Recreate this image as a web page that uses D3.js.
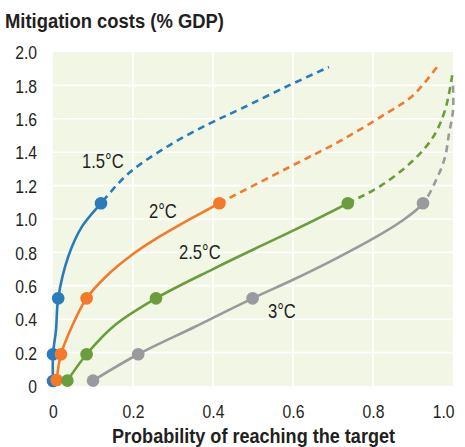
<!DOCTYPE html>
<html><head><meta charset="utf-8">
<script src="https://cdn.jsdelivr.net/npm/d3@7"></script>
<style>
body{margin:0;background:#fff;}
text{font-family:"Liberation Sans",Arial,sans-serif;fill:#231f20;}
</style></head>
<body>
<svg id="c" width="465" height="447"></svg>
<script>
const xTicks = [0, 0.2, 0.4, 0.6, 0.8, 1.0];
const xTickLabels = ["0", "0.2", "0.4", "0.6", "0.8", "1.0"];
const yTicks = [0, 0.2, 0.4, 0.6, 0.8, 1.0, 1.2, 1.4, 1.6, 1.8, 2.0];
const yTickLabels = ["0", "0.2", "0.4", "0.6", "0.8", "1.0", "1.2", "1.4", "1.6", "1.8", "2.0"];
const seriesNames = ["1.5°C", "2°C", "2.5°C", "3°C"];
const seriesColors = ["#2a7bbb", "#f47a2a", "#6a9e3c", "#9a9a9e"];

const markers15 = [[0.0, 0.03], [0.0, 0.19], [0.013, 0.525], [0.12, 1.094]];
const solid15 = [[0.0, 0.03], [0.0, 0.19], [0.0075, 0.335], [0.013, 0.525], [0.038, 0.774], [0.072, 0.953], [0.12, 1.094]];
const dashed15 = [[0.19, 1.275], [0.29, 1.44], [0.39, 1.57], [0.47, 1.66], [0.59, 1.80], [0.69, 1.91]];

const markers20 = [[0.009, 0.036], [0.02, 0.19], [0.084, 0.525], [0.416, 1.094]];
const solid20 = [[0.009, 0.036], [0.02, 0.19], [0.047, 0.355], [0.084, 0.525], [0.13, 0.65], [0.20, 0.79], [0.255, 0.878], [0.338, 0.993], [0.416, 1.094]];
const dashed20 = [[0.59, 1.31], [0.72, 1.47], [0.835, 1.635], [0.90, 1.74], [0.96, 1.91]];

const markers25 = [[0.036, 0.032], [0.084, 0.19], [0.2575, 0.525], [0.737, 1.094]];
const solid25 = [[0.036, 0.032], [0.084, 0.19], [0.155, 0.365], [0.2575, 0.525], [0.40, 0.70], [0.505, 0.822], [0.60, 0.93], [0.737, 1.094]];
const dashed25 = [[0.82, 1.20], [0.90, 1.35], [0.95, 1.49], [0.98, 1.65], [1.0, 1.89]];

const markers30 = [[0.10, 0.032], [0.213, 0.19], [0.499, 0.525], [0.925, 1.094]];
const solid30 = [[0.10, 0.032], [0.213, 0.19], [0.355, 0.355], [0.499, 0.525], [0.60, 0.636], [0.70, 0.754], [0.80, 0.882], [0.87, 0.985], [0.925, 1.094]];
const dashed30 = [[0.96, 1.245], [0.98, 1.37], [0.99, 1.51], [1.0, 1.65], [1.0, 1.80]];

const series = [
  {name: seriesNames[0], color: seriesColors[0], markers: markers15, solid: solid15, dashed: dashed15},
  {name: seriesNames[1], color: seriesColors[1], markers: markers20, solid: solid20, dashed: dashed20},
  {name: seriesNames[2], color: seriesColors[2], markers: markers25, solid: solid25, dashed: dashed25},
  {name: seriesNames[3], color: seriesColors[3], markers: markers30, solid: solid30, dashed: dashed30}
];

const W = 465, H = 447;
const svg = d3.select("#c");
const x = d3.scaleLinear().domain([0, 1]).range([53, 453]);
const y = d3.scaleLinear().domain([0, 2]).range([386, 52]);

function squeeze(sel, f) {
  sel.each(function () {
    const w = this.getComputedTextLength();
    d3.select(this).attr("textLength", w * f).attr("lengthAdjust", "spacingAndGlyphs");
  });
}

// panel
svg.append("rect").attr("x", x(0)).attr("y", y(2)).attr("width", x(1) - x(0)).attr("height", y(0) - y(2)).attr("fill", "#f2f6e5");
// grid
svg.append("g").selectAll("line").data(yTicks.filter(d => d > 0 && d < 2)).join("line")
  .attr("x1", x(0)).attr("x2", x(1)).attr("y1", d => y(d)).attr("y2", d => y(d))
  .attr("stroke", "#fff").attr("stroke-width", 1.6);
svg.append("g").selectAll("line").data(xTicks.filter(d => d > 0 && d < 1)).join("line")
  .attr("y1", y(0)).attr("y2", y(2)).attr("x1", d => x(d)).attr("x2", d => x(d))
  .attr("stroke", "#fff").attr("stroke-width", 1.6);

// axes
const yAxis = d3.axisLeft(y).tickValues(yTicks).tickFormat((d, i) => yTickLabels[i]).tickSize(0).tickPadding(16);
const gy = svg.append("g").attr("transform", `translate(${x(0)},0)`).call(yAxis);
gy.select(".domain").remove();
gy.selectAll("text").attr("font-size", 18.5).attr("font-family", null).attr("fill", "#231f20").attr("dy", "0.36em");
squeeze(gy.selectAll("text"), 0.85);

const xAxis = d3.axisBottom(x).tickValues(xTicks).tickFormat((d, i) => xTickLabels[i]).tickSize(0).tickPadding(19);
const gx = svg.append("g").attr("transform", `translate(0,${y(0)})`).call(xAxis);
gx.select(".domain").remove();
gx.selectAll("text").attr("font-size", 18.5).attr("font-family", null).attr("fill", "#231f20");
squeeze(gx.selectAll("text"), 0.85);
gx.selectAll("text").filter((d, i) => i === xTicks.length - 1).attr("text-anchor", "end").attr("x", 1);

// lines: one smooth curve per series, split into solid / dashed parts at the last marker
const line = d3.line().x(d => x(d[0])).y(d => y(d[1])).curve(d3.curveCatmullRom.alpha(0.5));
const defs = svg.append("defs");
const g = svg.append("g");
series.forEach((s, i) => {
  const all = s.solid.concat(s.dashed);
  const cutY = y(s.markers[s.markers.length - 1][1]);
  defs.append("clipPath").attr("id", "cs" + i).append("rect").attr("x", 0).attr("y", cutY).attr("width", W).attr("height", H - cutY);
  defs.append("clipPath").attr("id", "cd" + i).append("rect").attr("x", 0).attr("y", 0).attr("width", W).attr("height", cutY);
  g.append("path").attr("d", line(all)).attr("clip-path", `url(#cs${i})`).attr("fill", "none").attr("stroke", s.color).attr("stroke-width", 2.6);
  g.append("path").attr("d", line(all)).attr("clip-path", `url(#cd${i})`).attr("fill", "none").attr("stroke", s.color).attr("stroke-width", 2.6)
    .attr("stroke-dasharray", "7,5");
});
series.forEach(s => {
  g.selectAll(null).data(s.markers).join("circle")
    .attr("cx", d => x(d[0])).attr("cy", d => y(d[1])).attr("r", 6.3).attr("fill", s.color);
});

// series labels
const labelPos = [[0.0725, 1.305], [0.24, 1.006], [0.315, 0.76], [0.5375, 0.407]];
const lab = svg.append("g").selectAll("text").data(series).join("text")
  .attr("x", (d, i) => x(labelPos[i][0])).attr("y", (d, i) => y(labelPos[i][1]))
  .attr("font-size", 21).text(d => d.name);
squeeze(lab, 0.79);

// titles
svg.append("text").attr("x", 5).attr("y", 28).attr("font-size", 19.5).attr("font-weight", "bold")
  .attr("textLength", 219).attr("lengthAdjust", "spacingAndGlyphs").text("Mitigation costs (% GDP)");
svg.append("text").attr("x", 112).attr("y", 443).attr("font-size", 20.5).attr("font-weight", "bold")
  .attr("textLength", 283).attr("lengthAdjust", "spacingAndGlyphs").text("Probability of reaching the target");
</script>
</body></html>
